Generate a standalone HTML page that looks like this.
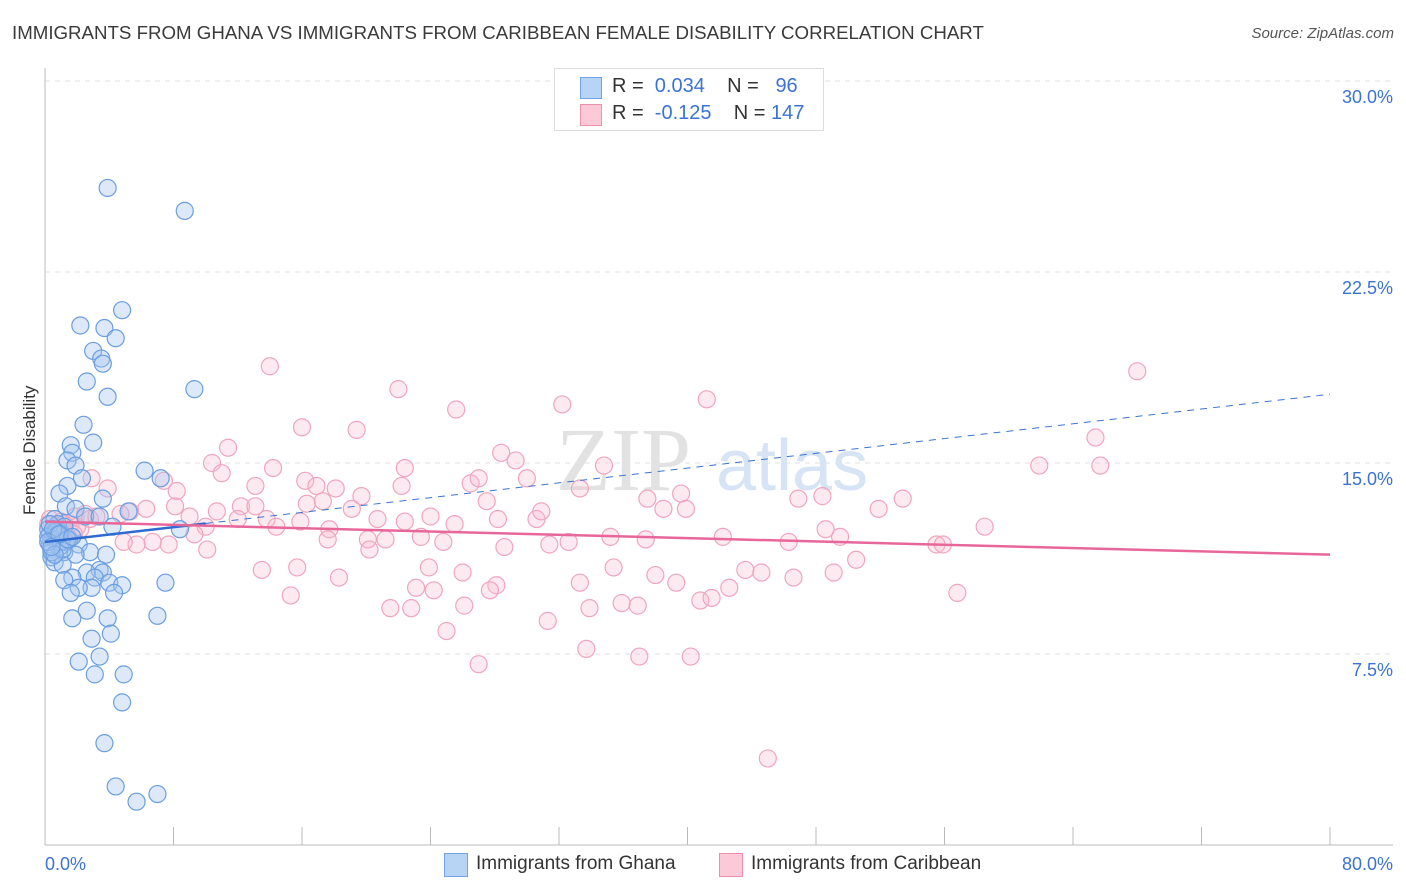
<!DOCTYPE html>
<html><head><meta charset="utf-8"><style>
body{margin:0;background:#fff;font-family:"Liberation Sans",sans-serif;}
#wrap{position:relative;width:1406px;height:892px;overflow:hidden}
.t{position:absolute;white-space:nowrap}
</style></head><body>
<div id="wrap">
<div class="t" style="left:12px;top:22px;font-size:18.7px;color:#3a3a3a">IMMIGRANTS FROM GHANA VS IMMIGRANTS FROM CARIBBEAN FEMALE DISABILITY CORRELATION CHART</div>
<div class="t" style="right:12px;top:25px;font-size:15px;color:#555;font-style:italic">Source: ZipAtlas.com</div>
<div class="t" style="left:-30px;top:445px;font-size:17px;color:#333;transform:rotate(-90deg);transform-origin:center;width:120px;text-align:center">Female Disability</div>
<svg id="svg" width="1406" height="892" style="position:absolute;left:0;top:0"></svg>
<div style="position:absolute;left:554px;top:68px;width:268px;height:61px;border:1px solid #ddd;background:#fff;font-size:20px">
 <div style="position:absolute;left:25px;top:8px;width:20px;height:20px;background:#b8d4f5;border:1px solid #6fa3e6"></div>
 <div style="position:absolute;left:25px;top:35px;width:20px;height:20px;background:#fbc9d7;border:1px solid #ee8fae"></div>
 <div class="t" style="left:57px;top:6px;color:#333">R = &nbsp;<span style="color:#3b73d4">0.034</span>&nbsp;&nbsp;&nbsp; N = &nbsp;&nbsp;<span style="color:#3b73d4">96</span></div>
 <div class="t" style="left:57px;top:33px;color:#333">R = &nbsp;<span style="color:#3b73d4">-0.125</span>&nbsp;&nbsp;&nbsp; N = <span style="color:#3b73d4">147</span></div>
</div>
<div>
 <div style="position:absolute;left:444px;top:853px;width:22px;height:22px;background:#b8d4f5;border:1px solid #6fa3e6"></div>
 <div class="t" style="left:476px;top:853px;font-size:19px;color:#333">Immigrants from Ghana</div>
 <div style="position:absolute;left:719px;top:853px;width:22px;height:22px;background:#fbc9d7;border:1px solid #ee8fae"></div>
 <div class="t" style="left:751px;top:853px;font-size:19px;color:#333">Immigrants from Caribbean</div>
</div>
</div>
<script>
const yTicks=[7.5,15,22.5,30];
const yTickLabels=["7.5%","15.0%","22.5%","30.0%"];
const xTickLabels=["0.0%","80.0%"];
const ghanaX=[3.9,8.7,4.8,2.2,3.7,4.4,3.0,3.5,3.6,2.6,9.3,3.9,2.4,3.0,1.6,1.7,1.4,1.9,6.2,7.2,2.3,1.4,0.9,3.6,1.3,1.9,5.2,2.5,3.4,0.6,4.2,8.4,0.9,0.3,0.6,2.1,0.4,1.2,2.8,3.8,0.4,1.9,0.6,1.1,3.4,3.6,2.6,1.7,3.1,7.5,4.0,1.2,4.8,2.9,2.1,4.3,1.6,7.0,2.6,3.9,1.7,4.1,2.9,3.4,2.1,4.9,3.1,4.8,3.7,4.4,5.7,7.0,0.2,0.5,0.8,1.0,1.3,0.3,0.6,0.9,1.2,1.5,0.2,0.4,0.7,1.0,0.3,0.8,1.1,0.5,1.4,0.2,0.6,0.9,1.7,0.4];
const ghanaY=[25.8,24.9,21.0,20.4,20.3,19.9,19.4,19.1,18.9,18.2,17.9,17.6,16.5,15.8,15.7,15.4,15.1,14.9,14.7,14.4,14.4,14.1,13.8,13.6,13.3,13.2,13.1,12.9,12.9,12.8,12.5,12.4,12.3,12.2,12.0,11.8,11.6,11.5,11.5,11.4,11.3,11.4,11.1,11.0,10.8,10.7,10.7,10.5,10.5,10.3,10.3,10.4,10.2,10.1,10.1,9.9,9.9,9.0,9.2,8.9,8.9,8.3,8.1,7.4,7.2,6.7,6.7,5.6,4.0,2.3,1.7,2.0,12.4,12.1,12.6,12.2,11.9,11.8,12.3,11.7,12.5,12.0,12.1,11.5,12.3,11.9,12.6,12.2,11.6,12.4,12.0,11.9,11.4,12.2,12.1,11.7];
const caribX=[14.0,22.0,25.6,32.2,41.2,68.0,16.0,19.4,28.4,29.3,34.8,65.4,61.9,65.7,11.4,10.4,11.0,14.2,16.2,16.9,18.1,19.7,22.2,26.5,27.0,30.0,33.3,39.6,37.5,46.9,48.4,53.4,51.9,27.5,22.4,13.1,16.3,17.3,19.1,12.2,13.1,10.7,8.2,7.4,2.9,3.9,5.3,6.3,4.7,8.1,9.0,10.0,12.0,13.8,14.4,15.9,17.7,20.7,22.4,24.0,25.5,28.2,30.6,30.9,38.5,39.9,58.5,48.6,49.5,42.2,46.3,55.5,55.9,35.2,37.4,32.6,31.4,28.6,24.8,23.4,21.2,20.1,17.6,20.2,10.1,9.3,7.7,6.7,5.7,4.9,13.5,15.7,18.3,23.9,26.0,23.1,24.2,28.1,27.7,33.3,35.4,38.0,39.3,43.6,44.6,46.6,49.1,50.5,15.3,21.5,22.8,26.1,33.9,35.9,36.9,40.8,41.5,42.6,56.8,31.3,25.0,33.7,37.0,40.2,27.0,45.0,0.3,0.8,1.3,1.6,0.6,1.9,2.2,1.1,0.2,2.5,0.5,1.0,1.4,0.7,2.0,2.8,3.2,1.8,0.4,1.2,0.9];
const caribY=[18.8,17.9,17.1,17.3,17.5,18.6,16.4,16.3,15.4,15.1,14.9,16.0,14.9,14.9,15.6,15.0,14.6,14.8,14.3,14.1,14.0,13.7,14.1,14.2,14.4,14.4,14.0,13.8,13.6,13.6,13.7,13.6,13.2,13.5,14.8,14.1,13.4,13.5,13.2,13.3,13.3,13.1,13.9,14.3,14.4,14.0,13.1,13.2,13.0,13.3,12.9,12.5,12.8,12.8,12.5,12.7,12.4,12.8,12.7,12.9,12.6,12.8,12.8,13.1,13.2,13.2,12.5,12.4,12.1,12.1,11.9,11.8,11.8,12.1,12.0,11.9,11.8,11.7,11.9,12.1,12.0,12.0,12.0,11.6,11.6,12.2,11.8,11.9,11.8,11.9,10.8,10.9,10.5,10.9,10.7,10.1,10.0,10.2,10.0,10.3,10.9,10.6,10.3,10.8,10.7,10.5,10.7,11.2,9.8,9.3,9.3,9.4,9.3,9.5,9.4,9.6,9.7,10.1,9.9,8.8,8.4,7.7,7.4,7.4,7.1,3.4,12.8,12.5,12.3,12.6,12.2,12.9,12.4,12.1,12.6,13.0,12.4,12.7,12.0,12.3,12.5,12.8,12.9,12.2,12.0,12.6,12.4];
const ghanaTrend=[11.9,17.7];
const caribTrend=[12.7,11.4];
const X0=45,X1=1330,Y0=845,Y1=81;
const xs=v=>X0+(v/80)*(X1-X0);
const ys=v=>Y0-(v/30)*(Y0-Y1);
const svg=document.getElementById('svg');const NS='http://www.w3.org/2000/svg';
function mk(t,a){const e=document.createElementNS(NS,t);for(const k in a)e.setAttribute(k,a[k]);svg.appendChild(e);return e;}
yTicks.forEach((v,i)=>{
 const g=mk('line',{x1:X0,x2:1393,y1:ys(v),y2:ys(v),stroke:'#e2e2e2','stroke-dasharray':'5,5'});
 
 
 const t=mk('text',{x:1393,y:ys(v)+22,'text-anchor':'end','font-size':18,fill:'#3b73d4','font-family':'Liberation Sans, sans-serif'});t.textContent=yTickLabels[i];
 
 
});
const ax=mk('line',{x1:X0,x2:X0,y1:68,y2:Y0,stroke:'#bbb'});


const bx=mk('line',{x1:X0,x2:1393,y1:Y0,y2:Y0,stroke:'#bbb'});


for(let i=0;i<=10;i++){const tk=mk('line',{x1:xs(i*8),x2:xs(i*8),y1:Y0,y2:Y0-18,stroke:'#bbb'});
 
 }
[[0,'start',X0],[80,'end',1393]].forEach((d,i)=>{const t=mk('text',{x:d[2],y:870,'text-anchor':d[1],'font-size':18,fill:'#3b73d4','font-family':'Liberation Sans, sans-serif'});t.textContent=xTickLabels[i];
 
 });
const wm=mk('text',{x:556,y:490,'text-anchor':'start','font-size':90,fill:'#e2e2e2','font-family':'Liberation Serif, serif'});wm.textContent='ZIP';


const wm2=mk('text',{x:716,y:490,'text-anchor':'start','font-size':72,fill:'#d6e4f5','font-family':'Liberation Sans, sans-serif'});wm2.textContent='atlas';


caribX.forEach((v,i)=>{const c=mk('circle',{cx:xs(v),cy:ys(caribY[i]),r:8.5,fill:'rgba(248,185,205,0.3)',stroke:'#f0a5bf','stroke-width':1.2});
 
 });
ghanaX.forEach((v,i)=>{const c=mk('circle',{cx:xs(v),cy:ys(ghanaY[i]),r:8.5,fill:'rgba(165,198,240,0.38)',stroke:'#6a9ee2','stroke-width':1.2});
 
 });
const gy=x=>ghanaTrend[0]+(ghanaTrend[1]-ghanaTrend[0])*x/80;
const l1=mk('line',{x1:xs(10),y1:ys(gy(10)),x2:xs(80),y2:ys(gy(80)),stroke:'#3b73d4','stroke-width':1,'stroke-dasharray':'7,6'});


const l2=mk('line',{x1:xs(0),y1:ys(gy(0)),x2:xs(10),y2:ys(gy(10)),stroke:'#2f6ad0','stroke-width':2.5});


const l3=mk('line',{x1:xs(0),y1:ys(caribTrend[0]),x2:xs(80),y2:ys(caribTrend[1]),stroke:'#e8679a','stroke-width':2.5});


</script>
</body></html>
